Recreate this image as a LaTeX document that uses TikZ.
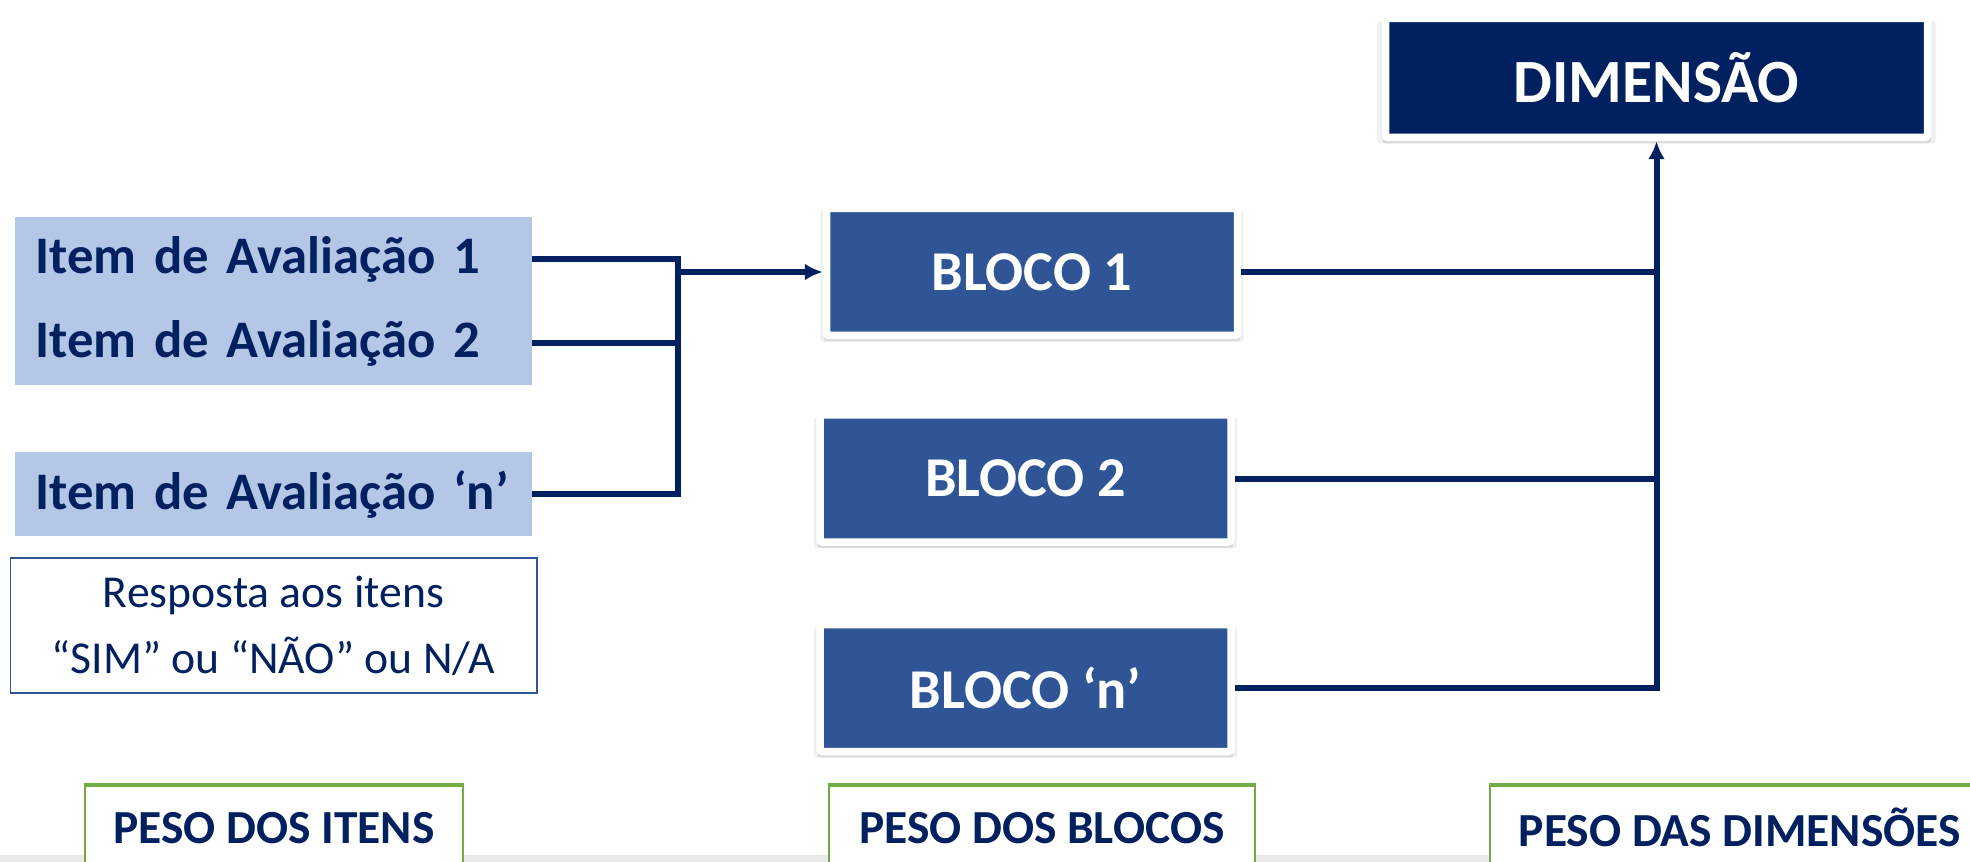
\documentclass[tikz,border=0pt]{standalone}
\usepackage{fontspec}
\setmainfont{Carlito}
\usetikzlibrary{arrows.meta,positioning,shadows}
\definecolor{AvalNavy}{HTML}{002060}
\definecolor{AvalBlock}{HTML}{2F5597}
\definecolor{AvalItem}{HTML}{B4C7E7}
\definecolor{AvalGreen}{HTML}{70AD47}
\definecolor{AvalGround}{HTML}{E9E9E9}

\begin{document}
\begin{tikzpicture}[
  itembox/.style={fill=AvalItem,draw=AvalItem,line width=0.6pt,minimum width=10.32cm,minimum height=1.66cm,text width=9.52cm,inner xsep=0.4cm,inner ysep=0pt,align=left,text=AvalNavy,font=\fontsize{30}{36}\selectfont\bfseries},
  blockbox/.style={draw=white,line width=0.15cm,rounded corners=1.5pt,fill=AvalBlock,minimum width=8.22cm,minimum height=2.54cm,text=white,font=\fontsize{32}{38}\selectfont\bfseries,
    drop shadow={shadow xshift=0cm,shadow yshift=-0.08cm,shadow scale=1.03,opacity=0.12},
    drop shadow={shadow xshift=0cm,shadow yshift=-0.1cm,shadow scale=1.012,opacity=0.2}},
  dimbox/.style={blockbox,fill=AvalNavy,minimum width=10.84cm,minimum height=2.38cm,font=\fontsize{35}{42}\selectfont\bfseries},
  pesobox/.style={draw=AvalGreen,line width=0.9pt,fill=white,anchor=north west,minimum height=1.68cm,inner xsep=0.4cm,text=AvalNavy,font=\fontsize{27}{32}\selectfont\bfseries},
  conn/.style={draw=AvalNavy,line width=0.12cm},
  arrowin/.style={-{Latex[length=0.36cm,width=0.34cm]}},
]
\useasboundingbox (0,0) rectangle (39.4,-17.24);
\fill[AvalGround] (0,-17.1) rectangle (39.4,-17.24);

% itens
\node[itembox,anchor=north west] (item1) at (0.30,-4.34) {Item de Avaliação 1};
\node[itembox,below=0pt of item1] (item2) {Item de Avaliação 2};
\node[itembox,below=1.34cm of item2] (itemn) {Item de Avaliação ‘n’};
\node[draw=AvalBlock,line width=1.1pt,minimum width=10.52cm,minimum height=2.7cm,align=center,text=AvalNavy,font=\fontsize{26}{37.5}\selectfont,below=0.42cm of itemn] (resp) {Resposta aos itens\\“SIM” ou “NÃO” ou N/A};

% blocos e dimensao
\node[blockbox] (blk1) at (20.64,-5.44) {BLOCO 1};
\node[blockbox,below=1.44cm of blk1,xshift=-0.13cm] (blk2) {BLOCO 2};
\node[blockbox,below=1.5cm of blk2] (blkn) {BLOCO ‘n’};
\node[dimbox] (dim) at (33.13,-1.56) {DIMENSÃO};

% pesos
\node[pesobox,minimum width=7.56cm] (pitens) at (1.68,-15.7) {PESO DOS ITENS};
\node[pesobox,minimum width=8.52cm] (pblocos) at (16.56,-15.7) {PESO DOS BLOCOS};
\node[pesobox,minimum width=10cm] (pdims) at (29.78,-15.7) {PESO DAS DIMENSÕES};
\foreach \p in {pitens,pblocos,pdims}
  \draw[AvalGreen,line width=2.4pt] (\p.north west) -- (\p.north east);

% ligacoes
\coordinate (ibus) at (13.56,-5.2);
\draw[conn] (item1.east) -| (ibus |- itemn.east) -- (itemn.east);
\draw[conn] (item2.east) -- (item2.east -| ibus);
\draw[conn,arrowin] (ibus |- blk1.west) -- (blk1.west);
\draw[conn] (blk1.east) -- (blk1.east -| dim.south);
\draw[conn] (blk2.east) -- (blk2.east -| dim.south);
\draw[conn,arrowin] (blkn.east) -| (dim.south);
\end{tikzpicture}
\end{document}
